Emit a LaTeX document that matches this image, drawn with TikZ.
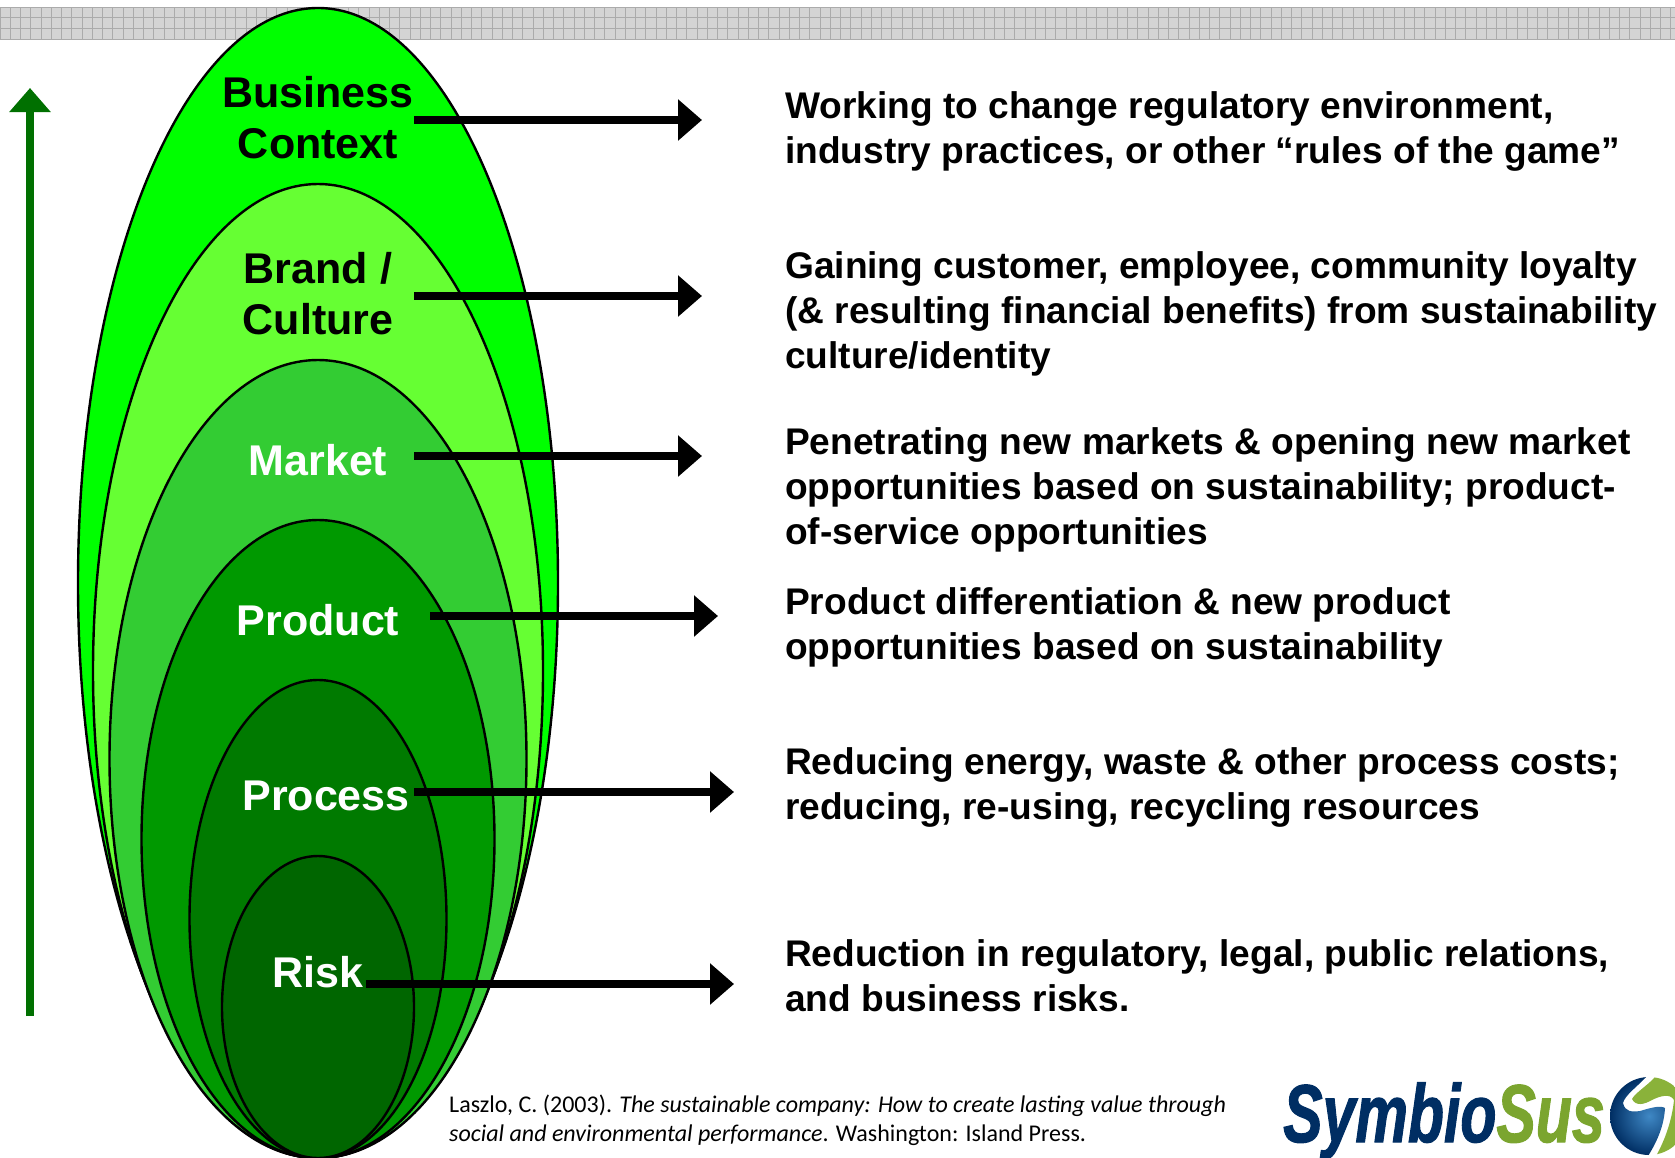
\documentclass[tikz,border=0pt]{standalone}
\usepackage{graphicx}
\usepackage{fontspec}
\setmainfont{Liberation Sans}
\newfontfamily\citefont{Carlito}
\newfontfamily\logofont{Liberation Sans}[BoldItalicFeatures={FakeBold=1.6}]
\definecolor{ringa}{HTML}{00FF00}
\definecolor{ringb}{HTML}{66FF33}
\definecolor{ringc}{HTML}{33CC33}
\definecolor{ringd}{HTML}{009900}
\definecolor{ringe}{HTML}{007A00}
\definecolor{ringf}{HTML}{006600}
\definecolor{upgreen}{HTML}{007000}
\definecolor{bandgray}{HTML}{D4D4D4}
\definecolor{bandline}{HTML}{ABABAB}
\definecolor{logoblue}{HTML}{002E63}
\definecolor{logogreen}{HTML}{7BA52F}
\definecolor{globeblue}{HTML}{3F88C5}
\definecolor{globegreen}{HTML}{8AB23A}
\usetikzlibrary{shapes.geometric, arrows.meta, positioning}

\begin{document}
\begin{tikzpicture}[x=1pt, y=-1pt,
        ring/.style={ellipse, draw=black, line width=2.4pt, inner sep=0pt},
        lab/.style={align=center, font=\fontsize{43}{51}\selectfont\bfseries, inner sep=0pt},
        desc/.style={anchor=west, align=left, inner sep=0pt,
                     font=\fontsize{37.1}{45}\selectfont\bfseries},
        arr/.style={-{Triangle[length=24pt,width=40pt]}, line width=8pt, black}
      ]
        \useasboundingbox (0,0) rectangle (1675,1157);
        \clip (0,0) rectangle (1675,1157);

        % band at the top
        \fill[bandgray] (0,7) rectangle (1675,40);
        \foreach \gx in {0,10.25,...,1675}
          \draw[bandline, line width=0.8pt] (\gx,7) -- (\gx,40);
        \foreach \gy in {7,17,28,39}
          \draw[bandline, line width=0.8pt] (0,\gy) -- (1675,\gy);

        % nested ellipses
        \node[ring, fill=ringa, minimum width=480pt, minimum height=1150pt] (biz) at (318,583) {};
        \node[ring, fill=ringb, minimum width=450pt, minimum height=974pt] (brand) at (318,671) {};
        \node[ring, fill=ringc, minimum width=417pt, minimum height=798pt] (market) at (318,759) {};
        \node[ring, fill=ringd, minimum width=353pt, minimum height=638pt] (product) at (318,839) {};
        \node[ring, fill=ringe, minimum width=257pt, minimum height=478pt] (process) at (318,919) {};
        \node[ring, fill=ringf, minimum width=192pt, minimum height=302pt] (risk) at (318,1007) {};

        % labels
        \node[lab] (bizlab) at (318,118) {Business\\Context};
        \node[lab] (brandlab) at (318,294) {Brand /\\Culture};
        \node[lab, white] (marketlab) at (318,460) {Market};
        \node[lab, white] (productlab) at (318,620) {Product};
        \node[lab, white] (processlab) at (326,796) {Process};
        \node[lab, white] (risklab) at (318,972) {Risk};

        % arrows
        \coordinate (a1) at (414,120);  \coordinate (b1) at (702,120);
        \coordinate (a2) at (414,296);  \coordinate (b2) at (702,296);
        \coordinate (a3) at (414,456);  \coordinate (b3) at (702,456);
        \coordinate (a4) at (430,616);  \coordinate (b4) at (718,616);
        \coordinate (a5) at (414,792);  \coordinate (b5) at (734,792);
        \coordinate (a6) at (366,984);  \coordinate (b6) at (734,984);
        \foreach \i in {1,...,6}
          \draw[arr] (a\i) -- (b\i);

        % left arrow
        \coordinate (upa) at (30,1016);
        \coordinate (upb) at (30,88);
        \draw[-{Triangle[length=24pt,width=40pt]}, line width=8pt, upgreen] (upa) -- (upb);

        % texts at right
        \node[desc] (d1) at (785,131) {Working to change regulatory environment,\\industry practices, or other “rules of the game”};
        \node[desc] (d2) at (785,314) {Gaining customer, employee, community loyalty\\(\& resulting financial benefits) from sustainability\\culture/identity};
        \node[desc] (d3) at (785,490) {Penetrating new markets \& opening new market\\opportunities based on sustainability; product-\\of-service opportunities};
        \node[desc] (d4) at (785,627) {Product differentiation \& new product\\opportunities based on sustainability};
        \node[desc] (d5) at (785,787) {Reducing energy, waste \& other process costs;\\reducing, re-using, recycling resources};
        \node[desc] (d6) at (785,976) {Reduction in regulatory, legal, public relations,\\and business risks.};

        % reference
        \node[anchor=west, align=left, inner sep=0pt, font=\citefont\fontsize{24}{29}\selectfont] (cite) at (449,1120)
          {Laszlo, C. (2003). \textit{The sustainable company: How to create lasting value through}\\\textit{social and environmental performance}. Washington: Island Press.};

        % logo
        \node[anchor=base west, inner sep=0pt, font=\logofont\fontsize{82}{82}\selectfont\bfseries\itshape] (logo) at (1283,1142)
          {\scalebox{0.72}[1]{\textcolor{logoblue}{Symbio}\textcolor{logogreen}{Sus}}};
        \begin{scope}
          \clip (1649,1116) circle (39);
          \clip (1647,1076) .. controls (1637,1087) and (1625,1095) .. (1623,1103)
            .. controls (1625,1112) and (1632,1112) .. (1640,1111)
            .. controls (1650,1108) and (1660,1105) .. (1665,1108)
            .. controls (1664,1125) and (1658,1140) .. (1648,1156)
            -- (1600,1156) -- (1600,1076) -- cycle;
          \shade[inner color=globeblue, outer color=logoblue] (1649,1116) circle (39);
        \end{scope}
        \begin{scope}
          \clip (1649,1116) circle (39);
          \fill[globegreen] (1655,1077) .. controls (1648,1085) and (1635,1093) .. (1632,1099)
            .. controls (1636,1107) and (1645,1104) .. (1652,1100)
            .. controls (1660,1096) and (1670,1093) .. (1674,1100)
            .. controls (1672,1120) and (1665,1140) .. (1656,1156)
            -- (1690,1156) -- (1690,1077) -- cycle;
        \end{scope}
      \end{tikzpicture}
\end{document}
